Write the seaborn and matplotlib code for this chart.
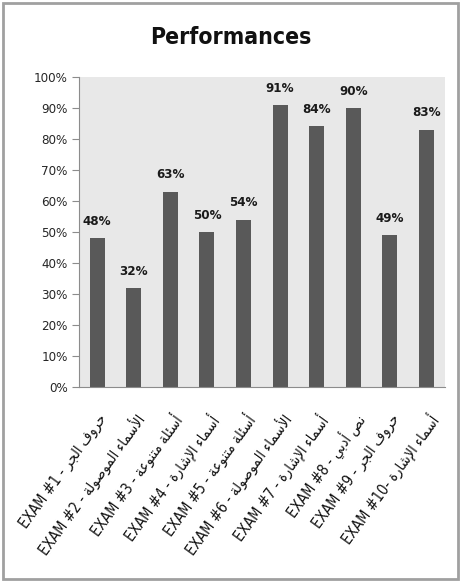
import numpy as np
import pandas as pd
import seaborn as sns
import matplotlib.pyplot as plt
from matplotlib.patches import Rectangle

# 数据
exams = ['EXAM #1 - ', 'EXAM #2 - ', 'EXAM #3 - ', 'EXAM #4 - ', 'EXAM #5 - ',
         'EXAM #6 - ', 'EXAM #7 - ', 'EXAM #8 - ', 'EXAM #9 - ', 'EXAM #10- ']
topics = ['حروف الجر', 'الأسماء الموصولة', 'أسئلة متنوعة', 'أسماء الإشارة', 'أسئلة متنوعة',
          'الأسماء الموصولة', 'أسماء الإشارة', 'نص أدبي', 'حروف الجر', 'أسماء الإشارة']
scores = [48, 32, 63, 50, 54, 91, 84, 90, 49, 83]
y_ticks = [0, 10, 20, 30, 40, 50, 60, 70, 80, 90, 100]

# 阿拉伯字母的连写形式 (孤立, 词尾, 词首, 词中)
forms = {
    'ا': (0xFE8D, 0xFE8E), 'أ': (0xFE83, 0xFE84), 'إ': (0xFE87, 0xFE88),
    'ة': (0xFE93, 0xFE94), 'د': (0xFEA9, 0xFEAA), 'ر': (0xFEAD, 0xFEAE),
    'و': (0xFEED, 0xFEEE), 'ء': (0xFE80,),
    'ب': (0xFE8F, 0xFE90, 0xFE91, 0xFE92), 'ت': (0xFE95, 0xFE96, 0xFE97, 0xFE98),
    'ج': (0xFE9D, 0xFE9E, 0xFE9F, 0xFEA0), 'ح': (0xFEA1, 0xFEA2, 0xFEA3, 0xFEA4),
    'س': (0xFEB1, 0xFEB2, 0xFEB3, 0xFEB4), 'ش': (0xFEB5, 0xFEB6, 0xFEB7, 0xFEB8),
    'ص': (0xFEB9, 0xFEBA, 0xFEBB, 0xFEBC), 'ع': (0xFEC9, 0xFECA, 0xFECB, 0xFECC),
    'ف': (0xFED1, 0xFED2, 0xFED3, 0xFED4), 'ل': (0xFEDD, 0xFEDE, 0xFEDF, 0xFEE0),
    'م': (0xFEE1, 0xFEE2, 0xFEE3, 0xFEE4), 'ن': (0xFEE5, 0xFEE6, 0xFEE7, 0xFEE8),
    'ي': (0xFEF1, 0xFEF2, 0xFEF3, 0xFEF4), 'ئ': (0xFE89, 0xFE8A, 0xFE8B, 0xFE8C),
}
lam_alef = {'ا': (0xFEFB, 0xFEFC), 'أ': (0xFEF7, 0xFEF8), 'إ': (0xFEF9, 0xFEFA)}


def shape(word):
    # matplotlib 不做阿拉伯文连写和从右到左排版，这里手动处理
    out = []
    i = 0
    while i < len(word):
        c = word[i]
        if c not in forms:
            out.append(c)
            i += 1
            continue
        prev = word[i - 1] if i > 0 else ' '
        joins_prev = prev in forms and len(forms[prev]) == 4 and i > 0
        if c == 'ل' and i + 1 < len(word) and word[i + 1] in lam_alef:
            out.append(chr(lam_alef[word[i + 1]][1 if joins_prev else 0]))
            i += 2
            continue
        nxt = word[i + 1] if i + 1 < len(word) else ' '
        joins_next = len(forms[c]) == 4 and nxt in forms and nxt != 'ء'
        f = forms[c]
        if len(f) == 1:
            code = f[0]
        elif joins_prev and joins_next:
            code = f[3]
        elif joins_next:
            code = f[2]
        elif joins_prev:
            code = f[1]
        else:
            code = f[0]
        out.append(chr(code))
        i += 1
    return ''.join(out)[::-1]


labels = [e + shape(t) for e, t in zip(exams, topics)]
df = pd.DataFrame({'exam': labels, 'score': scores})

sns.set_style('white')
plt.rcParams['font.family'] = ['DejaVu Sans']
plt.rcParams['font.stretch'] = 'condensed'

fig = plt.figure(figsize=(4.61, 5.82), dpi=100)
ax = fig.add_axes([0.171, 0.335, 0.794, 0.533])
ax.set_facecolor('#e8e8e8')

sns.barplot(data=df, x='exam', y='score', color='#595959', width=0.41,
            saturation=1, linewidth=0, edgecolor='none', ax=ax)

for i, v in enumerate(scores):
    ax.text(i, v + 3.3, f'{v}%', ha='center', va='bottom', fontsize=9.5,
            fontweight='bold', color='#1a1a1a')

ax.set_ylim(0, 100)
ax.set_xlim(-0.5, len(scores) - 0.5)
ax.set_yticks(y_ticks)
ax.set_yticklabels([f'{t}%' for t in y_ticks], fontsize=9.5, color='#262626')
ax.set_xticks(range(len(labels)))
ax.set_xticklabels(labels, rotation=54, ha='right', rotation_mode='anchor',
                   fontsize=10.5, color='#111111')
ax.set_xticks(np.arange(-0.5, len(scores), 1), minor=True)
ax.tick_params(axis='x', which='major', length=0, pad=17)
ax.tick_params(axis='x', which='minor', length=5, color='#8c8c8c', width=0.8)
ax.tick_params(axis='y', length=5, color='#8c8c8c', width=0.8, pad=3, left=True)
ax.set_xlabel('')
ax.set_ylabel('')
sns.despine(ax=ax, top=True, right=True)
for s in ['left', 'bottom']:
    ax.spines[s].set_color('#8c8c8c')
    ax.spines[s].set_linewidth(0.8)

fig.text(0.5, 0.935, 'Performances', ha='center', va='center', fontsize=16.5,
         fontweight='bold', color='#111111')

fig.patches.append(Rectangle((3 / 461, 3 / 582), 455 / 461, 576 / 582,
                             transform=fig.transFigure, fill=False,
                             edgecolor='#a0a0a0', linewidth=2))

fig.savefig('out.png', dpi=100)
